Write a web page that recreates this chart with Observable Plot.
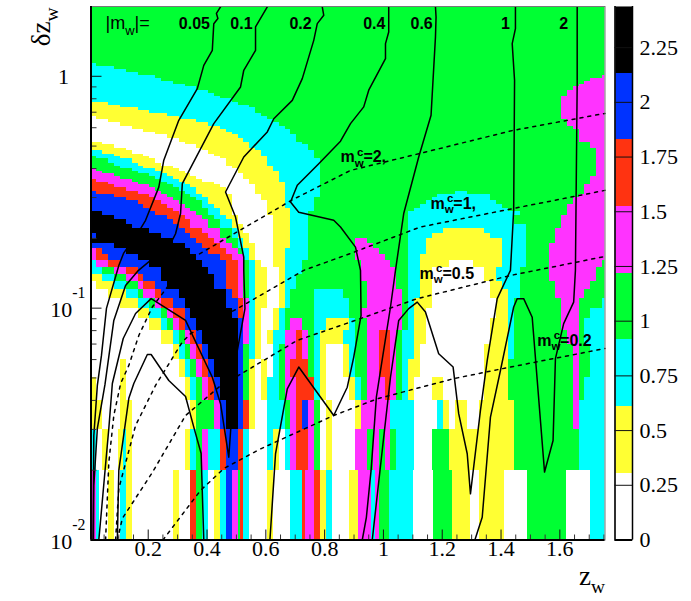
<!DOCTYPE html>
<html><head><meta charset="utf-8">
<script src="https://cdn.jsdelivr.net/npm/d3@7"></script>
<script src="https://cdn.jsdelivr.net/npm/@observablehq/plot@0.6"></script>
<style>html,body{margin:0;background:#fff}#c{display:flex;width:691px;height:601px}svg{display:block}</style>
</head><body><div id="c"></div>
<script>
const bandEdges=[0,.3048,.6095,.9143,1.219,1.524,1.829,2.133,2.438];
const bandColors=["#ffffff","#ffff33","#00ffff","#00ff33","#ff33ff","#ff3311","#0033ff","#000000"];
const bandLetters="WYCGMRBK";
const zStart=0.0054, zBin=0.02;
const zDomain=[0.0054,1.7536], dDomain=[0.01,2];
const rowEdges=[2,1.17,1.14,1.10,1.07,1.04,1.01,.98,.95,.92,.90,.87,.84,.82,.80,.77,.75,.73,.71,.69,.67,.65,.63,.61,.59,.57,.56,.54,.52,.51,.49,.48,.46,.45,.44,.42,.41,.40,.39,.38,.37,.36,.35,.34,.33,.32,.31,.30,.29,.28,.27,.26,.25,.24,.23,.22,.21,.20,.19,.18,.17,.16,.15,.14,.13,.12,.11,.10,.09,.08,.07,.06,.05,.04,.03,.02,.01];
// each row: band letter followed by the z-bin at which that band stops
const rowRuns=[
"G88","G88","C1 G88","C4 G88","C6 G88","C8 G88","C11 G87 M88","C12 G85 M88","C14 G84 M88","C16 G83 M88","C18 G82 M88","C20 G81 M88","C21 G81 M88","C22 G80 M88","C24 G80 M88",
"Y3 C25 G80 M88","Y5 C27 G80 M88","Y8 C28 G80 M88","Y10 C28 G80 M88","Y13 C29 G80 M88","W1 Y15 C30 G80 M88","W3 Y18 C31 G81 M88","W5 Y20 C32 G81 M88","W7 Y22 C33 G82 M88","W9 Y23 C34 G83 M88",
"W11 Y24 C34 G83 M88","W13 Y25 C35 G83 M88","W15 Y26 C35 G83 M88","Y2 W16 Y27 C36 G85 M88","Y4 W18 Y27 C37 G85 M88","Y6 W19 Y28 C37 G86 M88","C2 Y7 W20 Y29 C38 G86 M88","C4 Y9 W21 Y29 C38 G86 M88",
"G1 C5 Y10 W22 Y30 C38 G86 M88","G3 C7 Y11 W23 Y30 C39 G86 M88","G4 C8 Y12 W23 Y30 C39 G86 M88","G5 C9 Y14 W24 Y31 C39 G86 M88","M1 G7 C11 Y15 W25 Y31 C39 G86 M88","M2 G8 C12 Y16 W25 Y32 C39 G86 M88",
"M4 G10 C13 Y17 W26 Y32 C39 G86 M88","M5 G11 C14 Y18 W26 Y32 C39 G85 M88","R1 M7 G12 C15 Y19 W27 Y32 C39 G85 M88","R3 M8 G13 C16 Y21 W27 Y33 C39 G85 M88","R4 M10 G14 C17 Y22 W28 Y33 C39 G84 M88","R6 M11 G15 C18 Y23 W28 Y33 C39 G84 M88",
"B1 R8 M12 G16 C18 Y23 W28 Y33 C39 G62 C64 G84 M88","B4 R10 M13 G17 C19 Y24 W29 Y33 C39 G59 C68 G83 M88","B6 R11 M14 G18 C20 Y24 W29 Y33 C38 G58 C68 G82 M88","B8 R12 M15 G19 C20 Y24 W30 Y33 C38 G57 C69 G82 M88",
"B9 R13 M16 G19 C21 Y24 W30 Y33 C38 G56 C70 G81 M88","B10 R14 M17 G20 C22 Y24 W30 Y34 C38 G55 C71 G81 M88","K2 B11 R15 M18 G20 C22 Y24 W30 Y34 C37 G54 C73 G81 M88",
"K4 B13 R16 M19 G21 C23 Y25 W31 Y34 C37 G54 C72 G80 M88","K6 B14 R17 M20 G22 C24 Y25 W31 Y34 C37 G54 C72 G80 M88","K7 B15 R17 M20 G22 C24 Y26 W31 Y34 C37 G54 C74 G80 M88",
"K10 B16 R19 M22 G24 C25 Y26 W31 Y34 C37 G54 C60 Y67 C74 G79 M88","B1 K12 B17 R20 M22 G24 C25 Y27 W31 Y34 C37 G54 C58 Y68 C74 G79 M88",
"K14 B18 R21 M23 G25 C26 Y27 W31 Y34 C37 G45 M47 G54 C57 Y70 C74 G79 M88","B4 K16 B19 R22 M24 G25 C26 Y28 W31 Y34 C37 G45 M48 G54 C57 Y70 C74 G78 M88",
"M1 R2 B6 K17 B20 R23 M25 G26 C27 Y28 W31 Y33 C37 G45 M49 G54 C57 Y70 C74 G78 M88","M1 R3 B8 K18 B22 R24 M26 C27 Y28 W31 Y33 C37 G45 M50 G54 C56 Y70 C74 G78 M88",
"C1 M3 R5 B10 K19 B23 R25 M26 G27 C28 Y29 W31 Y33 C36 G46 M51 G54 C56 Y61 W65 Y70 C74 G78 M87 G88",
"C2 G4 M6 R8 B12 K20 B23 R25 M26 G27 C28 Y30 W32 Y33 C36 G46 M52 G54 C56 Y58 W67 Y69 C73 G78 M86 G88",
"Y2 C4 G6 M8 R9 B12 K21 B23 R25 M26 G27 C28 Y30 W32 Y33 C35 G46 M52 G54 C56 Y58 W67 Y69 C73 G78 M86 G88",
"W1 Y4 C6 G8 M9 R11 B13 K21 B23 R25 M26 G27 C28 Y30 W32 Y33 C35 G47 M52 G54 C56 Y58 W68 Y70 C73 G79 M85 G88",
"W3 Y6 C8 G9 M11 R12 B15 K23 B24 R25 M26 G27 C28 Y30 W32 Y33 C34 G38 C43 G47 M53 G54 C56 Y58 W68 Y71 C73 G79 M84 G88",
"W5 Y8 C10 G11 M12 R14 B16 K23 B25 R26 M27 C28 Y30 W32 Y33 C34 G38 C44 G47 M53 G54 C55 Y58 W69 Y71 C72 G80 M83 G87 C88",
"W8 Y10 C12 G13 M14 R16 B17 K24 B25 R26 M27 C28 Y29 W31 Y32 C33 G38 C44 G46 M53 G54 C55 Y57 W69 Y71 C72 G80 M83 G85 C88",
"W10 Y12 C13 G14 M15 R16 B18 K25 B26 M27 C28 Y29 W31 Y32 C33 G34 M36 G38 C40 Y44 C45 G47 M53 G54 C55 Y57 W68 Y71 C72 G80 M83 G84 C88",
"W12 Y14 C15 G16 M17 R18 B19 K25 B26 M27 C28 Y29 W30 Y31 C33 M35 R36 M37 G38 C39 Y43 C45 G47 M49 R51 M52 G53 C55 Y57 W68 Y71 C72 G81 M83 G84 C88",
"W14 Y15 C16 G17 M18 R19 B20 K25 B26 G27 C28 Y29 W31 C32 G33 M35 R36 M37 G38 C39 Y40 W43 Y44 C45 G47 M49 R51 M52 G53 C55 Y56 W67 Y71 C72 G82 M83 G85 C88",
"W5 Y6 W15 Y16 C17 G18 M19 R20 B21 K25 B26 G27 Y28 W29 Y30 W31 C32 G33 M34 R37 G38 C39 Y40 W43 Y44 C45 G47 M49 R51 M52 G53 C54 Y56 W67 Y71 G82 M83 G85 C88",
"Y1 W5 Y6 W16 Y17 C18 G19 M20 R21 B22 K25 B26 G27 Y28 W29 Y30 C32 G33 M35 R38 C39 Y40 W44 Y45 C46 G47 M50 R51 M52 G53 C54 Y55 W58 Y60 W67 Y71 G82 M83 G84 C88",
"Y2 W5 Y7 W17 Y18 G21 M22 B23 K25 B26 R27 Y28 W30 C33 G34 M35 R36 B37 M38 G39 W40 Y41 W45 Y46 M51 C55 W59 C60 Y61 W62 Y64 W66 Y72 G82 M83 C88",
"C1 W2 Y3 W4.7 Y5.5 C6 Y7 W16 Y17 C18 G19 M20 C22 R23 B25 R26 C27 W30 C31 Y32 W33 C34 M35 R37 M38 G39 W40 Y41 W45 M47 G48 M49 G50 M51 G52 C55 W58 G61 Y72 G83 C88",
"M1 C1.5 W3 Y4 W5 C6 Y7 W14 Y15 W17 R18 G19 C20 W21 Y22 C23 B24 M25 G25.5 R26 C27 W30 Y31 W34 C36 R36.5 M38 R39 Y40 C41 W44 Y45.5 M47.7 C48.3 M49 G50.7 C54.8 W58.2 G61.4 Y64.5 W66 Y70.3 W74.3 G80.8 W84.9 C88"
];
// solid contours of |m_w|: [z_w, log10(delta z_w)]
const contour005=[[.446,.299],[.432,.271],[.437,.249],[.423,.227],[.418,.112],[.389,.047],[.367,-.053],[.304,-.19],[.253,-.362],[.236,-.478],[.191,-.621],[.174,-.657],[.116,-.764],[.1,-.816],[.058,-1.001],[.041,-1.204],[.027,-1.333],[.015,-1.549],[.012,-2]];
const contour01=[[.605,.299],[.565,.213],[.565,.112],[.525,.026],[.514,-.046],[.423,-.204],[.316,-.463],[.31,-.592],[.293,-.679],[.276,-.722],[.167,-.837],[.123,-.902],[.083,-1.053],[.053,-1.329],[.027,-1.519],[.015,-1.765],[.014,-2]];
const contour02=[[.792,.299],[.797,.263],[.775,.227],[.763,.155],[.724,-.01],[.69,-.104],[.627,-.183],[.605,-.24],[.525,-.348],[.463,-.499],[.497,-.607],[.525,-.78],[.525,-.837],[.529,-1.002],[.497,-1.225],[.474,-1.643],[.446,-1.412],[.418,-1.298],[.327,-1.053],[.21,-.959],[.157,-1.023],[.115,-1.131],[.078,-1.325],[.066,-1.519],[.032,-2]];
const contour04=[[1.018,.299],[1.018,.191],[1.007,.141],[1.007,.076],[.95,-.06],[.933,-.132],[.888,-.204],[.854,-.28],[.78,-.377],[.707,-.47],[.684,-.542],[.712,-.586],[.831,-.621],[.854,-.65],[.905,-.737],[.922,-.837],[.924,-1.031],[.899,-1.211],[.877,-1.341],[.831,-1.463],[.712,-1.254],[.673,-1.348],[.633,-1.628],[.614,-2]];
const contour04arch=[[.095,-2],[.1,-1.7],[.134,-1.389],[.151,-1.325],[.197,-1.2],[.21,-1.2],[.27,-1.312],[.327,-1.381],[.355,-1.513],[.38,-1.627],[.389,-2]];
const contour06=[[1.177,.299],[1.179,.256],[1.177,.17],[1.162,-.168],[1.12,-.348],[1.069,-.592],[1.041,-.837],[1.024,-.995],[.99,-1.269],[.976,-1.384],[.958,-1.7],[.942,-1.902],[.928,-2]];
const contour1=[[1.449,.299],[1.449,.206],[1.438,.141],[1.446,-.017],[1.443,-.578],[1.432,-.837],[1.387,-.959],[1.353,-1.225],[1.33,-1.441],[1.296,-1.801],[1.285,-1.628],[1.256,-1.455],[1.237,-1.254],[1.188,-1.197],[1.143,-1.017],[1.115,-.974],[1.086,-1.002],[1.052,-1.053],[1.024,-1.298],[1.001,-1.556],[.962,-2]];
const contour2=[[1.659,.299],[1.659,-.031],[1.653,-.837],[1.647,-.974],[1.613,-1.067],[1.585,-1.218],[1.577,-1.571],[1.548,-1.707],[1.506,-1.039],[1.477,-.959],[1.455,-.959],[1.443,-.995],[1.398,-1.269],[1.364,-1.47],[1.336,-1.902],[1.311,-2]];
// dashed curves of m_w^c
const dashed2=[[.055,-2],[.066,-1.666],[.083,-1.463],[.106,-1.326],[.134,-1.247],[.168,-1.118],[.214,-.995],[.265,-.909],[.354,-.781],[.687,-.535],[.888,-.406],[1.126,-.332],[1.442,-.233],[1.7536,-.16]];
const dashed1=[[.089,-2],[.1,-1.778],[.157,-1.506],[.225,-1.333],[.316,-1.146],[.344,-1.11],[.503,-1.002],[.729,-.837],[.888,-.764],[1.126,-.65],[1.438,-.571],[1.7536,-.492]];
const dashed05=[[.095,-2],[.112,-1.907],[.214,-1.709],[.327,-1.463],[.44,-1.341],[.707,-1.139],[.888,-1.06],[1.115,-.959],[1.432,-.859],[1.7536,-.777]];
const dashed02=[[.25,-2],[.378,-1.786],[.457,-1.692],[.582,-1.607],[.831,-1.463],[.979,-1.391],[1.239,-1.304],[1.432,-1.254],[1.7536,-1.174]];
const xTickLabels=[.2,.4,.6,.8,1,1.2,1.4,1.6];
const xMinor=[.05,.1,.15,.25,.3,.35,.45,.5,.55,.65,.7,.75,.85,.9,.95,1.05,1.1,1.15,1.25,1.3,1.35,1.45,1.5,1.55,1.65,1.7,1.75];
const yMajor=[.01,.1,1];
const yMinor=[.02,.03,.04,.05,.06,.07,.08,.09,.2,.3,.4,.5,.6,.7,.8,.9,2];
const yPowers=[[.01,"10[-2]"],[.1,"10[-1]"]];
const topLabels=[[.357,"0.05"],[.517,"0.1"],[.718,"0.2"],[.969,"0.4"],[1.13,"0.6"],[1.415,"1"],[1.613,"2"]];
const curveLabels=[[.854,.447,"m{w}[c]=2,"],[1.16,.283,"m{w}[c]=1,"],[1.123,.141,"m{w}[c]=0.5"],[1.523,.0726,"m{w}[c]=0.2"]];
const barTicks=[0,.25,.5,.75,1,1.25,1.5,1.75,2,2.25];

const cells=[];
rowRuns.forEach((row,i)=>{let from=0;row.split(" ").forEach(run=>{
  const lv=bandLetters.indexOf(run[0]),to=+run.slice(1);
  cells.push({z1:zStart+zBin*from,z2:zStart+zBin*to,d1:rowEdges[i+1],d2:rowEdges[i],v:(bandEdges[lv]+bandEdges[lv+1])/2});
  from=to;});});
const solid=[contour005,contour01,contour02,contour04,contour04arch,contour06,contour1,contour2];
const dashed=[dashed2,dashed1,dashed05,dashed02];
const serif="'Liberation Serif',serif",sans="'Liberation Sans',sans-serif";
const colorScale={type:"threshold",domain:bandEdges.slice(1,-1),range:bandColors};
const H=601,W1=610,mL=90.5,mR=W1-604.5,mT=6,mB=H-539.5,fw=W1-mL-mR,fh=H-mT-mB;

const lineMark=(c,o)=>Plot.line(c,{x:d=>d[0],y:d=>10**d[1],stroke:"#000",curve:"linear",...o});
const main=Plot.plot({width:W1,height:H,marginLeft:mL,marginRight:mR,marginTop:mT,marginBottom:mB,
  style:{background:"white",overflow:"visible"},
  x:{domain:zDomain,axis:null},y:{type:"log",domain:dDomain,axis:null},color:colorScale,
  marks:[
    Plot.rect(cells,{x1:"z1",x2:"z2",y1:"d1",y2:"d2",fill:"v",clip:true,shapeRendering:"crispEdges"}),
    ...solid.map(c=>lineMark(c,{strokeWidth:1.5})),
    ...dashed.map(c=>lineMark(c,{strokeWidth:1.5,strokeDasharray:"3,5"})),
    Plot.tickX(xTickLabels,{x:d=>d,stroke:"#111",strokeWidth:1,insetTop:fh-10}),
    Plot.tickX(xMinor,{x:d=>d,stroke:"#333",strokeWidth:1,insetTop:fh-5}),
    Plot.tickY(yMajor,{y:d=>d,stroke:"#111",strokeWidth:1,insetRight:fw-11}),
    Plot.tickY(yMinor,{y:d=>d,stroke:"#333",strokeWidth:1,insetRight:fw-6}),
    Plot.frame({stroke:"#777",strokeWidth:1}),
    Plot.ruleX([zDomain[0]],{stroke:"#000",strokeWidth:2}),
    Plot.ruleY([dDomain[0]],{stroke:"#000",strokeWidth:2}),
    Plot.text(xTickLabels,{x:d=>d,text:d=>String(d),frameAnchor:"bottom",dy:16,fontFamily:serif,fontSize:22}),
    Plot.text(yPowers,{y:d=>d[0],text:d=>d[1],frameAnchor:"left",textAnchor:"end",dx:-5.5,dy:1.5,fontFamily:serif,fontSize:22}),
    Plot.text(["1"],{y:()=>1,text:d=>d,frameAnchor:"left",textAnchor:"end",dx:-22,dy:1,fontFamily:serif,fontSize:22}),
    Plot.text(["|m{w}|="],{x:()=>.055,y:()=>1.69,text:d=>d,textAnchor:"start",fontFamily:sans,fontSize:18}),
    Plot.text(topLabels,{x:d=>d[0],y:()=>1.69,text:d=>d[1],fontFamily:sans,fontWeight:"bold",fontSize:16}),
    Plot.text(curveLabels,{x:d=>d[0],y:d=>d[1],text:d=>d[2],textAnchor:"start",fontFamily:sans,fontWeight:"bold",fontSize:16}),
    Plot.text(["z{w}"],{text:d=>d,frameAnchor:"bottom-right",textAnchor:"end",dy:45,fontFamily:serif,fontSize:27}),
    Plot.text(["δz{w}"],{text:d=>d,frameAnchor:"top-left",rotate:-90,textAnchor:"end",dx:-60,dy:1,fontFamily:serif,fontSize:27})
  ]});

const bar=Plot.plot({width:81,height:H,marginLeft:4.5,marginRight:59,marginTop:mT,marginBottom:mB,
  style:{background:"white",overflow:"visible"},
  x:{axis:null,domain:[0,1]},y:{domain:[0,2.438],axis:null},color:colorScale,
  marks:[
    Plot.rect(bandColors,{x1:()=>0,x2:()=>1,y1:(d,i)=>bandEdges[i],y2:(d,i)=>bandEdges[i+1],fill:(d,i)=>(bandEdges[i]+bandEdges[i+1])/2,shapeRendering:"crispEdges"}),
    Plot.ruleY(barTicks,{y:d=>d,stroke:"#111",strokeWidth:1}),
    Plot.frame({stroke:"#777",strokeWidth:1}),
    Plot.ruleX([0,1],{stroke:"#000",strokeWidth:1.5}),
    Plot.ruleY([0],{stroke:"#000",strokeWidth:2}),
    Plot.text(barTicks,{y:d=>d,text:d=>String(d),frameAnchor:"right",textAnchor:"start",dx:7,fontFamily:serif,fontSize:22})
  ]});

document.getElementById("c").append(main,bar);

const NS="http://www.w3.org/2000/svg";
function richText(root){
  root.querySelectorAll("g[font-family]").forEach(g=>{g.style.fontFamily=g.getAttribute("font-family");});
  root.querySelectorAll("text").forEach(t=>{
    const s=t.textContent;
    if(!/[{\[]/.test(s))return;
    const fs=parseFloat(getComputedStyle(t).fontSize);
    t.textContent="";
    let shift=0,prevSub=false;
    s.split(/(\{[^}]*\}|\[[^\]]*\])/).filter(Boolean).forEach(p=>{
      const ts=document.createElementNS(NS,"tspan");let off=0,txt=p;
      if(p[0]==="{"){off=fs*.3;txt=p.slice(1,-1);ts.setAttribute("font-size",fs*.72);}
      else if(p[0]==="["){off=-fs*(fs>=20?.85:.42);txt=p.slice(1,-1);ts.setAttribute("font-size",fs*.72);if(prevSub)ts.setAttribute("dx",-fs*.42);}
      ts.setAttribute("dy",off-shift);shift=off;prevSub=p[0]==="{";
      ts.textContent=txt;t.appendChild(ts);
    });
  });
}
richText(main);richText(bar);
</script></body></html>
